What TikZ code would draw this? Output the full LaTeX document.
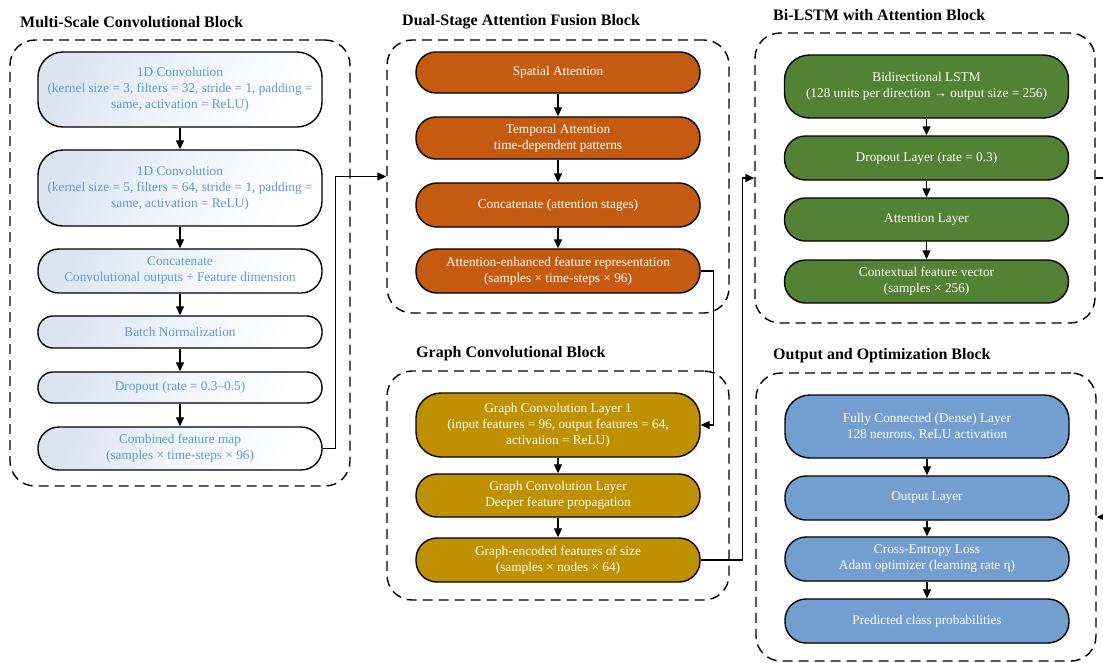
\documentclass[tikz,border=0pt]{standalone}
\usepackage{fontspec}
\setmainfont{Liberation Serif}
\usepackage{xcolor}
\usetikzlibrary{arrows.meta,positioning}
\definecolor{convtext}{HTML}{5B9BD5}
\definecolor{convfill}{HTML}{DCE4F2}
\definecolor{attorange}{HTML}{C55A11}
\definecolor{graphgold}{HTML}{BF9000}
\definecolor{lstmgreen}{HTML}{548235}
\definecolor{outblue}{HTML}{729FCF}

\begin{document}
\begin{tikzpicture}[x=1pt,y=-1pt,
	layer/.style={draw,line width=1.4pt,minimum width=284pt,align=center,inner sep=2pt,font=\fontsize{13.3}{16}\selectfont},
	convlayer/.style={layer,top color=convfill,bottom color=white,middle color=convfill!40,shading angle=60,text=convtext},
	attlayer/.style={layer,fill=attorange,text=white},
	gcnlayer/.style={layer,fill=graphgold,text=white},
	lstmlayer/.style={layer,fill=lstmgreen,text=white},
	outlayer/.style={layer,fill=outblue,text=white},
	blockframe/.style={draw,dash pattern=on 10pt off 6pt,line width=1.4pt,rounded corners=25pt,inner sep=0pt},
	blocktitle/.style={anchor=west,inner sep=0pt,font=\fontsize{16}{18}\selectfont\bfseries},
	conn/.style={line width=1.3pt,-{Triangle[length=9pt,width=8pt]}}]
	\useasboundingbox (0,0) rectangle (1103,662);

	% frames
	\node[blockframe,minimum width=340pt,minimum height=446pt] (msframe) at (180,263) {};
	\node[blockframe,minimum width=342pt,minimum height=273pt] (dsframe) at (558,176.5) {};
	\node[blockframe,minimum width=342pt,minimum height=229pt] (gcframe) at (558,485.5) {};
	\node[blockframe,minimum width=340pt,minimum height=290pt] (blframe) at (925,178) {};
	\node[blockframe,minimum width=340pt,minimum height=288pt] (offrame) at (926,517) {};

	\node[blocktitle] (mstitle) at (20,22) {Multi-Scale Convolutional Block};
	\node[blocktitle] (dstitle) at (402,22) {Dual-Stage Attention Fusion Block};
	\node[blocktitle] (gctitle) at (416,354) {Graph Convolutional Block};
	\node[blocktitle] (bltitle) at (773,15) {Bi-LSTM with Attention Block};
	\node[blocktitle] (oftitle) at (773,356) {Output and Optimization Block};

	% multi-scale convolution
	\node[convlayer,minimum height=75pt,rounded corners=25pt] (ms1) at (180,89.5) {1D Convolution\\(kernel size = 3, filters = 32, stride = 1, padding =\\same, activation = ReLU)};
	\node[convlayer,minimum height=76pt,rounded corners=25pt] (ms2) at (180,188) {1D Convolution\\(kernel size = 5, filters = 64, stride = 1, padding =\\same, activation = ReLU)};
	\node[convlayer,minimum height=44pt,rounded corners=21pt] (ms3) at (180,271) {Concatenate\\Convolutional outputs + Feature dimension};
	\node[convlayer,minimum height=32pt,rounded corners=15pt] (ms4) at (180,332) {Batch Normalization};
	\node[convlayer,minimum height=31pt,rounded corners=15pt] (ms5) at (180,387.5) {Dropout (rate = 0.3--0.5)};
	\node[convlayer,minimum height=43pt,rounded corners=21pt] (ms6) at (180,448.5) {Combined feature map\\(samples × time-steps × 96)};

	% dual-stage attention
	\node[attlayer,minimum height=41pt,rounded corners=20pt] (ds1) at (558,72.5) {Spatial Attention};
	\node[attlayer,minimum height=42pt,rounded corners=20pt] (ds2) at (558,138) {Temporal Attention\\time-dependent patterns};
	\node[attlayer,minimum height=44pt,rounded corners=21pt] (ds3) at (558,205) {Concatenate (attention stages)};
	\node[attlayer,minimum height=44pt,rounded corners=21pt] (ds4) at (558,271) {Attention-enhanced feature representation\\(samples × time-steps × 96)};

	% graph convolution
	\node[gcnlayer,minimum height=64pt,rounded corners=25pt] (gc1) at (558,425) {Graph Convolution Layer 1\\(input features = 96, output features = 64,\\activation = ReLU)};
	\node[gcnlayer,minimum height=43pt,rounded corners=21pt] (gc2) at (558,495.5) {Graph Convolution Layer\\Deeper feature propagation};
	\node[gcnlayer,minimum height=44pt,rounded corners=21pt] (gc3) at (558,560) {Graph-encoded features of size\\(samples × nodes × 64)};

	% bi-lstm
	\node[lstmlayer,minimum height=63pt,rounded corners=25pt] (bl1) at (926.5,86.5) {Bidirectional LSTM\\(128 units per direction → output size = 256)};
	\node[lstmlayer,minimum height=44pt,rounded corners=21pt] (bl2) at (926.5,158) {Dropout Layer (rate = 0.3)};
	\node[lstmlayer,minimum height=43pt,rounded corners=21pt] (bl3) at (926.5,219.5) {Attention Layer};
	\node[lstmlayer,minimum height=43pt,rounded corners=21pt] (bl4) at (926.5,281.5) {Contextual feature vector\\(samples × 256)};

	% output
	\node[outlayer,minimum height=63pt,rounded corners=25pt] (of1) at (927,426.5) {Fully Connected (Dense) Layer\\128 neurons, ReLU activation};
	\node[outlayer,minimum height=44pt,rounded corners=21pt] (of2) at (927,498) {Output Layer};
	\node[outlayer,minimum height=44pt,rounded corners=21pt] (of3) at (927,559) {Cross-Entropy Loss\\Adam optimizer (learning rate η)};
	\node[outlayer,minimum height=44pt,rounded corners=21pt] (of4) at (927,621) {Predicted class probabilities};

	\foreach \a/\b in {ms1/ms2,ms2/ms3,ms3/ms4,ms4/ms5,ms5/ms6,ds1/ds2,ds2/ds3,ds3/ds4,gc1/gc2,gc2/gc3,bl1/bl2,bl2/bl3,bl3/bl4,of1/of2,of2/of3,of3/of4}
		\draw[conn] (\a.south) -- (\b.north);

	\draw[conn] (ms6.east) -- ++(13,0) |- (dsframe.west);
	\draw[conn] (ds4.east) -- ++(13,0) |- (gc1.east);
	\draw[conn] (gc3.east) -- ++(42,0) |- (blframe.west);
	\draw[conn] (blframe.east) -- ++(20,0) |- (offrame.east);
\end{tikzpicture}
\end{document}
